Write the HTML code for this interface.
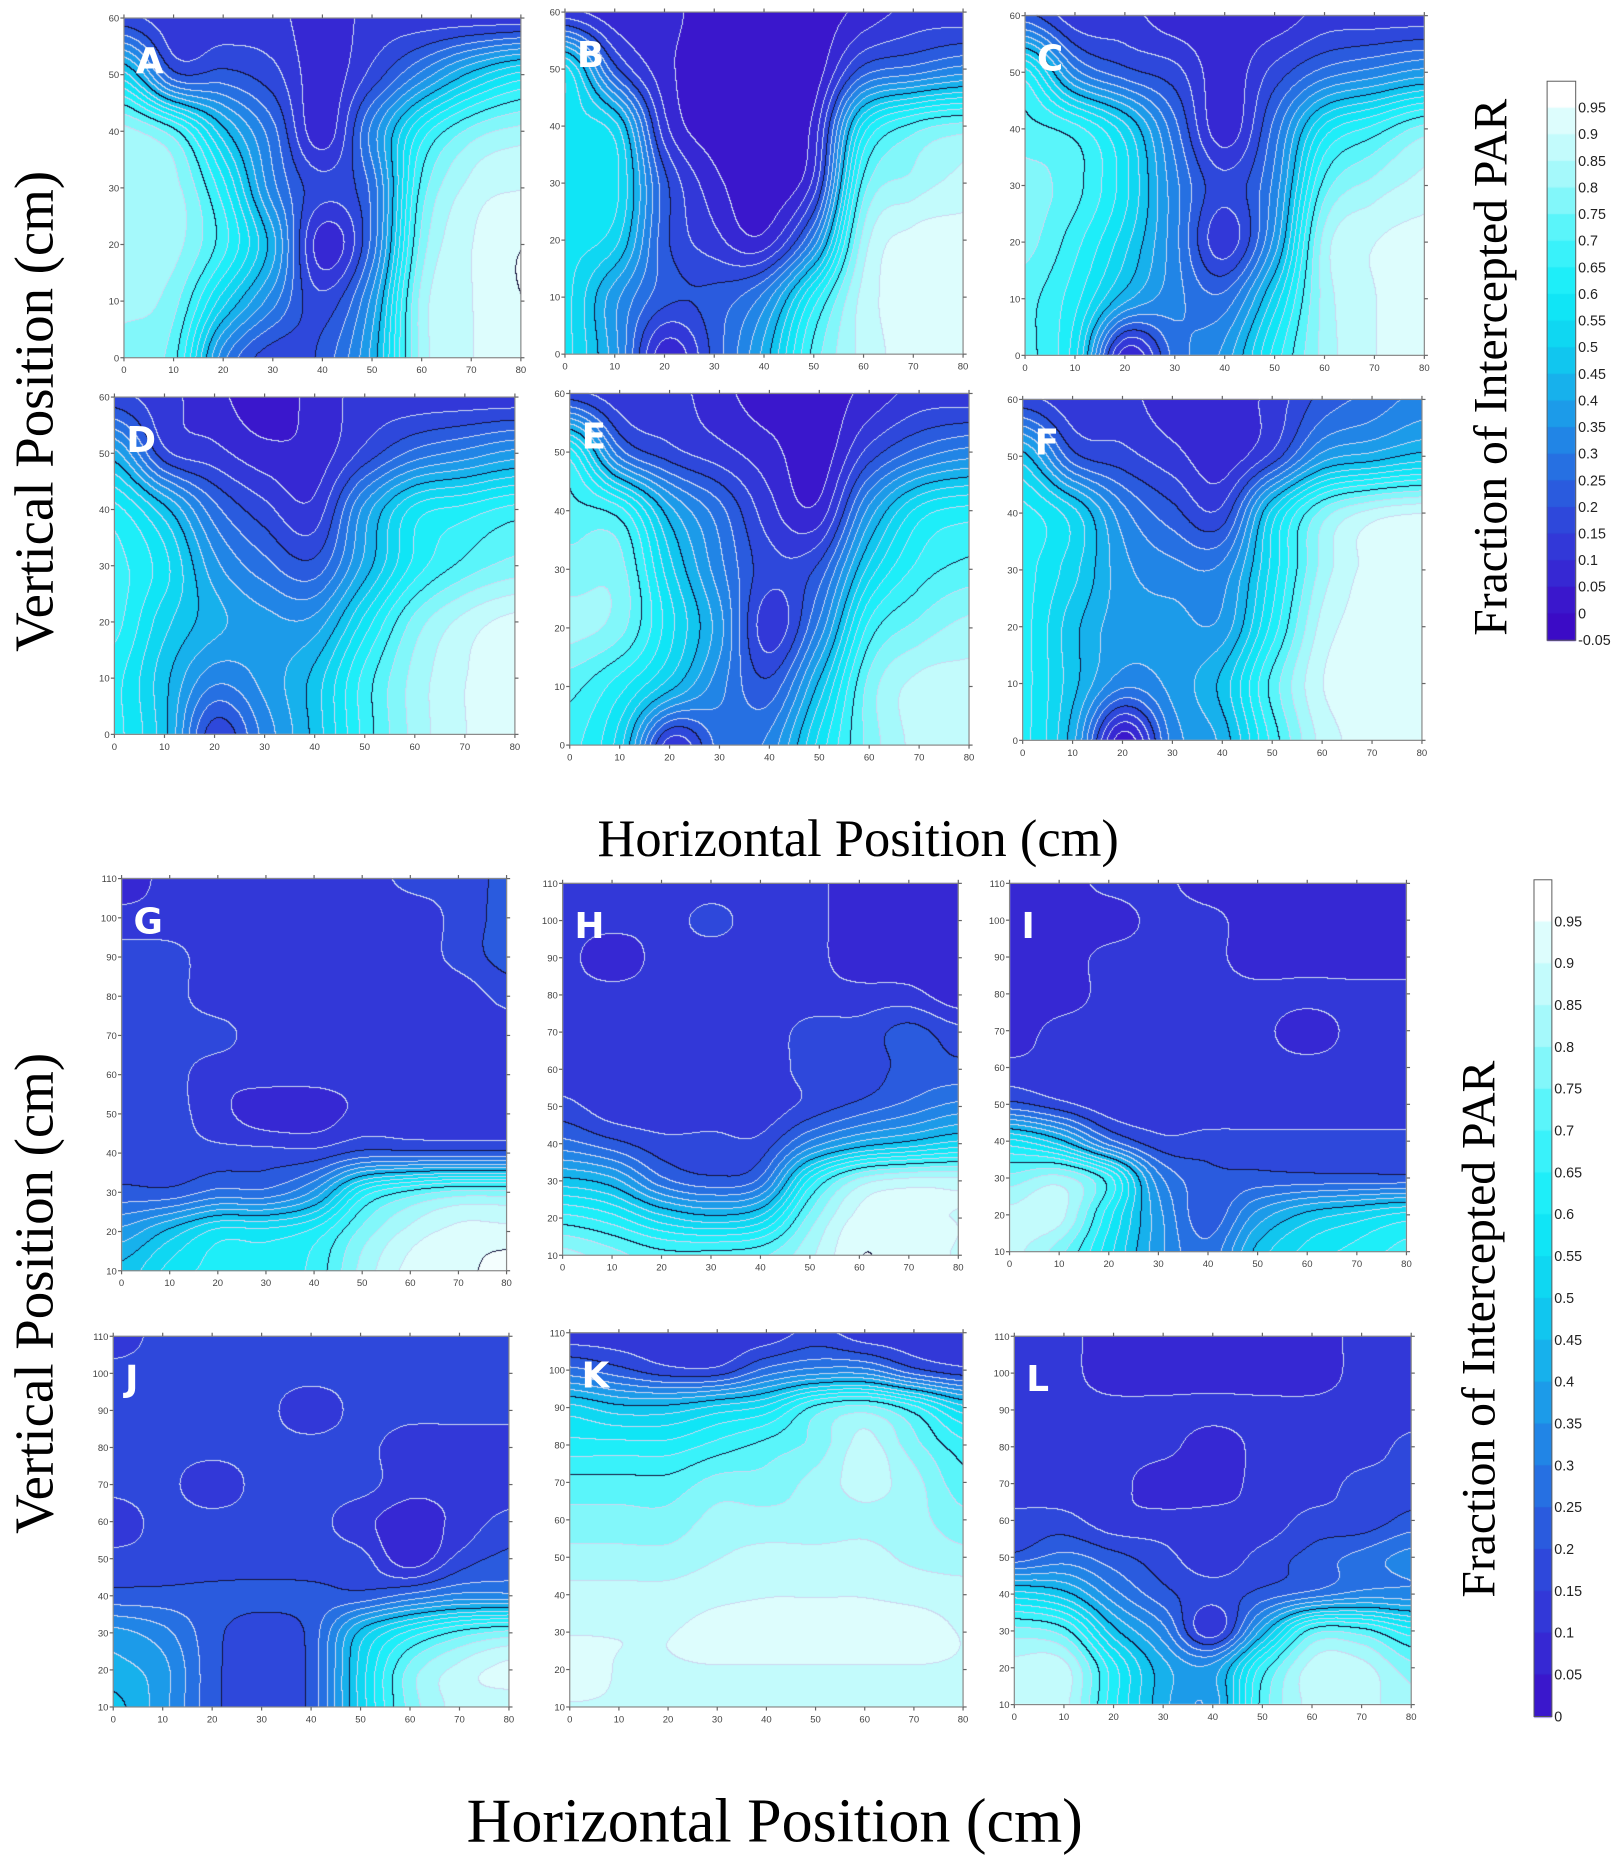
<!DOCTYPE html>
<html><head><meta charset="utf-8"><style>
html,body{margin:0;padding:0;background:#fff;}
#wrap{position:relative;width:1621px;height:1874px;overflow:hidden;}
canvas,svg{position:absolute;left:0;top:0;}
</style></head><body>
<div id="wrap">
<canvas id="cv" width="1621" height="1874"></canvas>
<svg id="sv" width="1621" height="1874" viewBox="0 0 1360 1572"></svg>
</div>
<script>
// ---------- data: grids sampled at x = 0..80 step 10, rows listed from top (max y) to bottom ----------
const xCats = [0,10,20,30,40,50,60,70,80];
const yTop = [60,50,40,30,20,10,0];
const yBot = [110,100,90,80,70,60,50,40,30,20,10];
const gridA = [[0.15,0.1,0.1,0.1,0.05,0.1,0.1,0.1,0.1],[0.5,0.2,0.2,0.15,0.05,0.15,0.3,0.45,0.55],[0.8,0.7,0.45,0.25,0.05,0.3,0.6,0.75,0.8],[0.8,0.8,0.6,0.3,0.15,0.25,0.7,0.85,0.88],[0.8,0.8,0.65,0.4,0.05,0.25,0.75,0.88,0.93],[0.8,0.75,0.5,0.3,0.15,0.35,0.8,0.88,0.93],[0.75,0.7,0.3,0.15,0.2,0.4,0.8,0.88,0.9]];
const gridB = [[0.1,0.05,0.05,0,0,0,0.05,0.1,0.1],[0.55,0.2,0.05,0,0,0,0.2,0.25,0.3],[0.55,0.5,0.1,0,0,0.05,0.55,0.7,0.75],[0.55,0.55,0.2,0.05,0,0.1,0.7,0.8,0.85],[0.55,0.5,0.2,0.1,0.05,0.3,0.8,0.9,0.9],[0.55,0.35,0.2,0.2,0.3,0.6,0.85,0.9,0.9],[0.55,0.35,0.05,0.2,0.4,0.7,0.85,0.9,0.9]];
const gridC = [[0.2,0.1,0.1,0.05,0.05,0.05,0.1,0.1,0.1],[0.6,0.3,0.2,0.15,0.05,0.15,0.25,0.3,0.35],[0.7,0.65,0.5,0.25,0.05,0.25,0.55,0.65,0.75],[0.75,0.7,0.55,0.3,0.15,0.3,0.7,0.8,0.85],[0.75,0.65,0.5,0.3,0.1,0.35,0.8,0.88,0.9],[0.7,0.6,0.4,0.3,0.25,0.5,0.8,0.88,0.9],[0.7,0.55,0.05,0.25,0.35,0.6,0.8,0.88,0.9]];
const gridD = [[0.15,0.1,0.05,0,0.05,0.1,0.1,0.1,0.1],[0.4,0.15,0.1,0.05,0.05,0.15,0.25,0.3,0.35],[0.6,0.45,0.25,0.15,0.1,0.35,0.55,0.6,0.65],[0.65,0.55,0.35,0.25,0.2,0.4,0.6,0.7,0.75],[0.65,0.5,0.4,0.35,0.35,0.55,0.75,0.85,0.9],[0.6,0.45,0.3,0.35,0.45,0.65,0.8,0.88,0.92],[0.6,0.45,0.15,0.3,0.45,0.65,0.8,0.88,0.92]];
const gridE = [[0.15,0.1,0.1,0.05,0,0,0.05,0.1,0.1],[0.6,0.25,0.15,0.1,0.05,0,0.15,0.25,0.3],[0.7,0.65,0.4,0.25,0.1,0.05,0.35,0.55,0.6],[0.75,0.75,0.5,0.3,0.15,0.2,0.5,0.65,0.7],[0.8,0.75,0.55,0.35,0.1,0.3,0.65,0.75,0.8],[0.7,0.6,0.45,0.3,0.2,0.45,0.75,0.85,0.85],[0.65,0.5,0.1,0.25,0.3,0.55,0.75,0.85,0.85]];
const gridF = [[0.15,0.1,0.1,0.05,0.05,0.1,0.2,0.25,0.3],[0.45,0.2,0.15,0.1,0.05,0.15,0.35,0.4,0.45],[0.6,0.5,0.3,0.2,0.15,0.5,0.75,0.85,0.88],[0.6,0.5,0.35,0.3,0.3,0.55,0.8,0.9,0.9],[0.6,0.45,0.35,0.35,0.35,0.6,0.85,0.9,0.92],[0.6,0.45,0.3,0.35,0.45,0.7,0.88,0.9,0.92],[0.6,0.4,0.0,0.3,0.4,0.65,0.85,0.9,0.92]];
const gridG = [[0.05,0.1,0.1,0.1,0.1,0.1,0.15,0.15,0.2],[0.1,0.1,0.1,0.1,0.1,0.1,0.1,0.15,0.2],[0.15,0.15,0.1,0.1,0.1,0.1,0.1,0.15,0.2],[0.15,0.15,0.1,0.1,0.1,0.1,0.1,0.1,0.15],[0.15,0.15,0.15,0.1,0.1,0.1,0.1,0.1,0.1],[0.15,0.15,0.1,0.1,0.1,0.1,0.1,0.1,0.1],[0.15,0.15,0.1,0.05,0.05,0.1,0.1,0.1,0.1],[0.15,0.15,0.15,0.15,0.15,0.2,0.2,0.2,0.2],[0.2,0.2,0.25,0.25,0.35,0.6,0.7,0.75,0.75],[0.35,0.45,0.55,0.55,0.6,0.75,0.85,0.9,0.9],[0.45,0.55,0.6,0.6,0.65,0.8,0.9,0.92,0.95]];
const gridH = [[0.1,0.1,0.1,0.1,0.1,0.1,0.05,0.05,0.05],[0.1,0.1,0.1,0.15,0.1,0.1,0.05,0.05,0.05],[0.1,0.05,0.1,0.1,0.1,0.1,0.05,0.05,0.05],[0.1,0.1,0.1,0.1,0.1,0.1,0.1,0.1,0.05],[0.1,0.1,0.1,0.1,0.1,0.15,0.15,0.2,0.15],[0.1,0.1,0.1,0.1,0.1,0.15,0.15,0.2,0.2],[0.15,0.1,0.1,0.1,0.1,0.15,0.2,0.25,0.3],[0.25,0.2,0.15,0.15,0.15,0.3,0.4,0.45,0.5],[0.45,0.4,0.25,0.2,0.25,0.6,0.8,0.85,0.85],[0.65,0.6,0.5,0.45,0.5,0.75,0.9,0.9,0.88],[0.8,0.75,0.7,0.7,0.72,0.82,0.93,0.9,0.88]];
const gridI = [[0.05,0.05,0.1,0.1,0.05,0.05,0.05,0.05,0.05],[0.05,0.05,0.05,0.1,0.1,0.05,0.05,0.05,0.05],[0.05,0.05,0.1,0.1,0.1,0.05,0.05,0.05,0.05],[0.05,0.05,0.1,0.1,0.1,0.1,0.1,0.1,0.1],[0.05,0.1,0.1,0.1,0.1,0.1,0.05,0.1,0.1],[0.1,0.1,0.1,0.1,0.1,0.1,0.1,0.1,0.1],[0.2,0.15,0.1,0.1,0.1,0.1,0.1,0.1,0.1],[0.55,0.45,0.25,0.15,0.15,0.15,0.15,0.15,0.15],[0.75,0.8,0.65,0.3,0.2,0.2,0.2,0.2,0.2],[0.85,0.85,0.6,0.35,0.2,0.35,0.45,0.5,0.55],[0.85,0.75,0.55,0.35,0.25,0.45,0.55,0.6,0.65]];
const gridJ = [[0.1,0.15,0.15,0.15,0.15,0.15,0.15,0.15,0.15],[0.15,0.15,0.15,0.15,0.15,0.15,0.15,0.15,0.15],[0.15,0.15,0.15,0.15,0.1,0.15,0.15,0.15,0.15],[0.15,0.15,0.15,0.15,0.15,0.15,0.1,0.1,0.1],[0.15,0.15,0.1,0.15,0.15,0.15,0.1,0.1,0.1],[0.1,0.15,0.15,0.15,0.15,0.1,0.05,0.1,0.15],[0.15,0.15,0.15,0.15,0.15,0.15,0.05,0.15,0.2],[0.2,0.2,0.2,0.2,0.2,0.2,0.25,0.3,0.3],[0.35,0.3,0.2,0.15,0.2,0.45,0.6,0.7,0.75],[0.4,0.35,0.2,0.15,0.2,0.5,0.75,0.85,0.9],[0.45,0.35,0.2,0.15,0.2,0.5,0.75,0.85,0.85]];
const gridK = [[0.1,0.1,0.1,0.1,0.1,0.15,0.1,0.1,0.1],[0.25,0.2,0.15,0.15,0.25,0.3,0.3,0.2,0.15],[0.5,0.45,0.45,0.5,0.55,0.7,0.75,0.65,0.5],[0.6,0.6,0.6,0.65,0.7,0.75,0.85,0.75,0.65],[0.7,0.7,0.7,0.75,0.75,0.8,0.85,0.8,0.7],[0.75,0.75,0.75,0.8,0.8,0.8,0.82,0.8,0.75],[0.8,0.8,0.8,0.83,0.85,0.85,0.85,0.82,0.8],[0.85,0.85,0.85,0.87,0.88,0.88,0.88,0.87,0.86],[0.88,0.88,0.88,0.9,0.9,0.9,0.9,0.9,0.88],[0.9,0.88,0.88,0.88,0.88,0.88,0.88,0.88,0.88],[0.88,0.88,0.88,0.88,0.88,0.88,0.88,0.88,0.88]];
const gridL = [[0.1,0.1,0.05,0.05,0.05,0.05,0.05,0.1,0.1],[0.1,0.1,0.05,0.05,0.05,0.05,0.05,0.1,0.1],[0.1,0.1,0.1,0.1,0.1,0.1,0.1,0.1,0.1],[0.1,0.1,0.1,0.1,0.05,0.1,0.1,0.1,0.15],[0.1,0.1,0.1,0.05,0.05,0.1,0.1,0.15,0.15],[0.15,0.15,0.1,0.1,0.1,0.1,0.15,0.15,0.2],[0.2,0.25,0.2,0.15,0.1,0.15,0.2,0.25,0.3],[0.5,0.45,0.3,0.2,0.15,0.2,0.25,0.3,0.3],[0.75,0.7,0.45,0.3,0.1,0.4,0.7,0.7,0.6],[0.85,0.85,0.6,0.4,0.35,0.65,0.85,0.85,0.75],[0.85,0.85,0.6,0.4,0.35,0.7,0.85,0.85,0.8]];
const topCbLabels = ["0.95","0.9","0.85","0.8","0.75","0.7","0.65","0.6","0.55","0.5","0.45","0.4","0.35","0.3","0.25","0.2","0.15","0.1","0.05","0","-0.05"];
const botCbLabels = ["0.95","0.9","0.85","0.8","0.75","0.7","0.65","0.6","0.55","0.5","0.45","0.4","0.35","0.3","0.25","0.2","0.15","0.1","0.05","0"];

// ---------- layout (in 1360x1572 viewBox units) ----------
const panels = [
 {id:'A',g:gridA,ys:yTop,x0:104,x1:437,y0:15,y1:300},
 {id:'B',g:gridB,ys:yTop,x0:474,x1:808,y0:10,y1:297},
 {id:'C',g:gridC,ys:yTop,x0:860,x1:1195,y0:13,y1:298},
 {id:'D',g:gridD,ys:yTop,x0:96,x1:432,y0:333,y1:616},
 {id:'E',g:gridE,ys:yTop,x0:478,x1:813,y0:330,y1:625},
 {id:'F',g:gridF,ys:yTop,x0:858,x1:1193,y0:335,y1:621},
 {id:'G',g:gridG,ys:yBot,x0:102,x1:425,y0:737,y1:1066},
 {id:'H',g:gridH,ys:yBot,x0:472,x1:804,y0:741,y1:1053},
 {id:'I',g:gridI,ys:yBot,x0:847,x1:1180,y0:741,y1:1050},
 {id:'J',g:gridJ,ys:yBot,x0:95,x1:427,y0:1121,y1:1432},
 {id:'K',g:gridK,ys:yBot,x0:478,x1:808,y0:1118,y1:1432},
 {id:'L',g:gridL,ys:yBot,x0:851,x1:1184,y0:1121,y1:1430}
];
const S = 1621/1360;
const stops=[[-0.05,[58,8,196]],[0,[60,14,200]],[0.1,[52,48,214]],[0.2,[44,80,220]],[0.3,[36,122,228]],[0.4,[26,166,234]],[0.5,[14,208,240]],[0.6,[16,236,248]],[0.7,[70,244,250]],[0.8,[150,248,250]],[0.9,[210,252,252]],[1.0,[255,255,255]]];
function cmap(v){
  for(let i=1;i<stops.length;i++){ if(v<=stops[i][0]){const a=stops[i-1],b=stops[i];const t=(v-a[0])/(b[0]-a[0]);return a[1].map((c,k)=>Math.round(c+(b[1][k]-c)*t));}}
  return stops[stops.length-1][1];
}
function bandOf(v){return Math.max(0,Math.min(20,Math.floor((v+0.05)/0.05+1e-9)));}
function bandColor(b){return cmap(-0.05+b*0.05+0.025);}
function cr(p0,p1,p2,p3,t){return 0.5*((2*p1)+(-p0+p2)*t+(2*p0-5*p1+4*p2-p3)*t*t+(-p0+3*p1-3*p2+p3)*t*t*t);}
function sample(g,fx,fy){
  const R=g.length,C=g[0].length;
  const ix=Math.min(C-2,Math.floor(fx)),iy=Math.min(R-2,Math.floor(fy));
  const tx=fx-ix,ty=fy-iy;
  const at=(r,c)=>g[Math.max(0,Math.min(R-1,r))][Math.max(0,Math.min(C-1,c))];
  const rows=[];
  for(let j=-1;j<=2;j++) rows.push(cr(at(iy+j,ix-1),at(iy+j,ix),at(iy+j,ix+1),at(iy+j,ix+2),tx));
  return cr(rows[0],rows[1],rows[2],rows[3],ty);
}
const cv=document.getElementById('cv');const ctx=cv.getContext('2d');
const img=ctx.createImageData(1621,1874);const D=img.data;
for(const p of panels){
  const X0=Math.round(p.x0*S),X1=Math.round(p.x1*S),Y0=Math.round(p.y0*S),Y1=Math.round(p.y1*S);
  const W=X1-X0,H=Y1-Y0,R=p.g.length;
  const bands=new Int8Array((W+1)*(H+1));
  for(let j=0;j<=H;j++)for(let i=0;i<=W;i++){
    const v=sample(p.g,i/W*8,j/H*(R-1))+0.018;
    bands[j*(W+1)+i]=bandOf(Math.max(-0.05,Math.min(0.999,v)));
  }
  for(let j=0;j<H;j++)for(let i=0;i<W;i++){
    const b=bands[j*(W+1)+i],br=bands[j*(W+1)+i+1],bd=bands[(j+1)*(W+1)+i];
    let c=bandColor(b);
    const nb=(br!==b)?br:(bd!==b?bd:-1);
    if(nb>=0){const lev=Math.max(b,nb);const black=(lev%5===0);c=black?[20,20,60]:[205,215,240];}
    const o=((Y0+j)*1621+X0+i)*4;D[o]=c[0];D[o+1]=c[1];D[o+2]=c[2];D[o+3]=255;
  }
}
ctx.putImageData(img,0,0);
function cbar(x0,x1,y0,y1,n,startBand){
  const h=(y1-y0)/n;
  for(let k=0;k<n;k++){const b=startBand+(n-1-k);const c=b>=20?[255,255,255]:bandColor(b);
    ctx.fillStyle='rgb('+c.join(',')+')';ctx.fillRect(x0*S,(y0+k*h)*S,(x1-x0)*S,h*S+1);}
}
cbar(1298,1322,68,537,21,0);
cbar(1287,1302,738,1440,20,1);

// ---------- SVG overlay ----------
const NS='http://www.w3.org/2000/svg';const sv=document.getElementById('sv');
function el(t,a,txt){const e=document.createElementNS(NS,t);for(const k in a)e.setAttribute(k,a[k]);if(txt!==undefined)e.textContent=txt;sv.appendChild(e);return e;}
for(const p of panels){
  const f=el('rect',{x:p.x0,y:p.y0,width:p.x1-p.x0,height:p.y1-p.y0,fill:'none',stroke:'#888','stroke-width':1});
  
  
  const xs=v=>p.x0+(v/80)*(p.x1-p.x0);
  const ymin=p.ys[p.ys.length-1],ymax=p.ys[0];
  const ys=v=>p.y1-(v-ymin)/(ymax-ymin)*(p.y1-p.y0);
  for(const v of xCats){
    el('line',{x1:xs(v),x2:xs(v),y1:p.y1,y2:p.y1+3,stroke:'#666'});
    el('line',{x1:xs(v),x2:xs(v),y1:p.y0,y2:p.y0-3,stroke:'#666'});
    const t=el('text',{x:xs(v),y:p.y1+13,'font-size':8,'text-anchor':'middle',fill:'#444','font-family':'Liberation Sans, sans-serif'},String(v));
    
    
  }
  for(const v of p.ys){
    el('line',{x1:p.x0,x2:p.x0-3,y1:ys(v),y2:ys(v),stroke:'#666'});
    el('line',{x1:p.x1,x2:p.x1+3,y1:ys(v),y2:ys(v),stroke:'#666'});
    const t=el('text',{x:p.x0-4,y:ys(v)+3,'font-size':8,'text-anchor':'end',fill:'#444','font-family':'Liberation Sans, sans-serif'},String(v));
    
    
  }
  const L=el('text',{x:p.x0+10,y:p.y0+46,'font-size':30,'font-weight':'bold',fill:'#fff','font-family':'DejaVu Sans, sans-serif'},p.id);
  
  
}
function cbLabels(x0,x1,y0,y1,labels,n){
  const f=el('rect',{x:x0,y:y0,width:x1-x0,height:y1-y0,fill:'none',stroke:'#555','stroke-width':0.8});
  
  
  const h=(y1-y0)/n;
  labels.forEach((s,i)=>{
    const y=y0+(i+1)*h;
    const t=el('text',{x:x1+2,y:y+4,'font-size':12,fill:'#222','font-family':'Liberation Sans, sans-serif'},s);
    
    
  });
}
cbLabels(1298,1322,68,537,topCbLabels,21);
cbLabels(1287,1302,738,1440,botCbLabels,20);
function title(x,y,txt,size,rot,name){
  const a={x:x,y:y,'font-size':size,'text-anchor':'middle',fill:'#000','font-family':'Liberation Serif, serif'};
  if(rot)a.transform='rotate(-90 '+x+' '+y+')';
  const t=el('text',a,txt);
  
  
}
title(44,345,'Vertical Position (cm)',46,true,'y-axis-title-top');
title(44,1085,'Vertical Position (cm)',46,true,'y-axis-title-bottom');
title(720,718,'Horizontal Position (cm)',44,false,'x-axis-title-top');
title(650,1545,'Horizontal Position (cm)',52,false,'x-axis-title-bottom');
title(1264,308,'Fraction of Intercepted PAR',40,true,'colorbar-title-top');
title(1254,1115,'Fraction of Intercepted PAR',40,true,'colorbar-title-bottom');
</script>
</body></html>
